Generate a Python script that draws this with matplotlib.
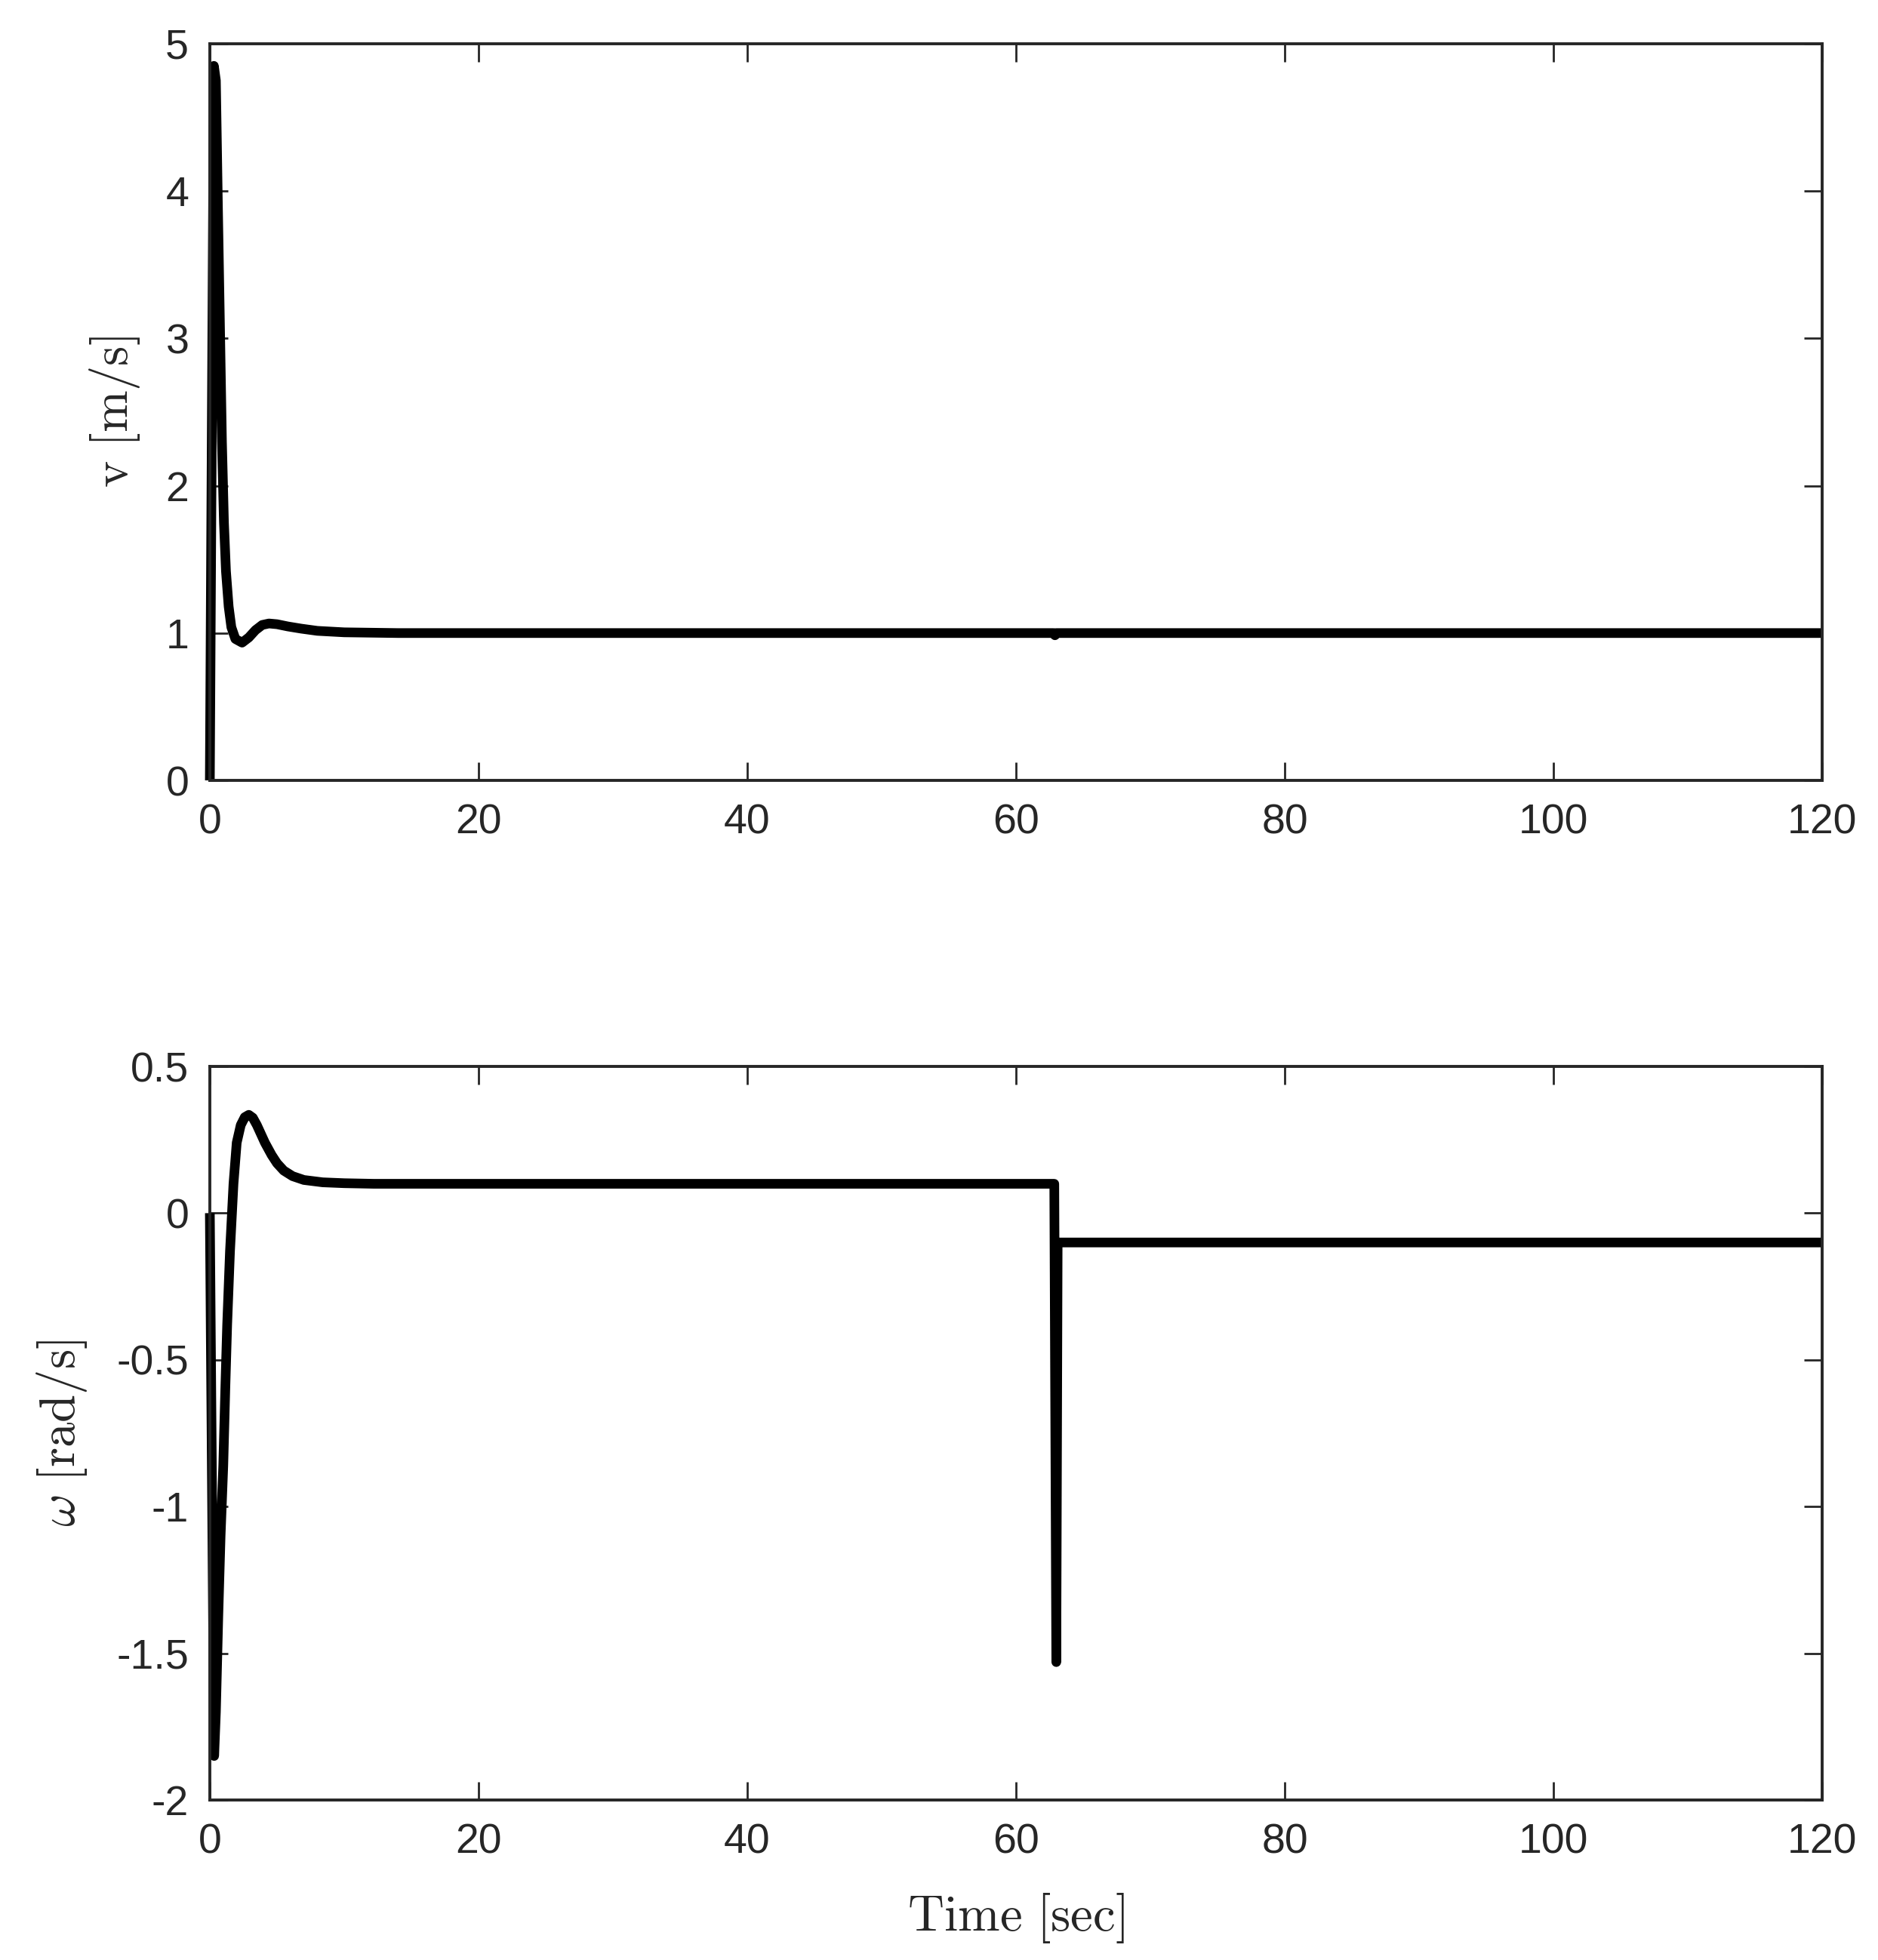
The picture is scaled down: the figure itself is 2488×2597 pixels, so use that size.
import numpy as np
import matplotlib
matplotlib.use('Agg')
import matplotlib.pyplot as plt

# linear speed v [m/s]
t_v = [0, 0.3, 0.45, 0.6, 0.75, 0.9, 1.05, 1.2, 1.4, 1.6, 1.9, 2.4, 2.9, 3.4, 3.9, 4.4,
       5.0, 5.8, 6.8, 8.0, 10, 14, 62.8, 62.9, 63.0, 120]
v = [0, 4.85, 4.75, 3.9, 3.1, 2.3, 1.75, 1.42, 1.18, 1.04, 0.96, 0.935, 0.97, 1.02, 1.055, 1.065,
     1.06, 1.045, 1.03, 1.015, 1.005, 1.0, 1.0, 0.985, 1.0, 1.0]

# angular speed omega [rad/s]
t_w = [0, 0.32, 0.45, 0.63, 0.8, 1.0, 1.15, 1.29, 1.5, 1.76, 2.0, 2.3, 2.6, 2.9, 3.2, 3.5,
       3.8, 4.1, 4.6, 5.0, 5.5, 6.16, 7.0, 8.4, 10, 12.2, 62.85, 63.0, 63.1, 120]
w = [0, -1.85, -1.7, -1.37, -1.1, -0.86, -0.6, -0.38, -0.13, 0.10, 0.24, 0.30, 0.327, 0.335, 0.325, 0.30,
     0.27, 0.24, 0.198, 0.17, 0.145, 0.126, 0.113, 0.105, 0.102, 0.10, 0.10, -1.53, -0.10, -0.10]

x_ticks = [0, 20, 40, 60, 80, 100, 120]
v_ticks = [0, 1, 2, 3, 4, 5]
w_ticks = [-2, -1.5, -1, -0.5, 0, 0.5]
w_labels = ['-2', '-1.5', '-1', '-0.5', '0', '0.5']

plt.rcParams['font.family'] = ['Liberation Sans', 'DejaVu Sans']
plt.rcParams['mathtext.fontset'] = 'cm'
plt.rcParams['axes.unicode_minus'] = False

dark = '#262626'
W, H = 2488, 2597
fig = plt.figure(figsize=(W / 200, H / 200), dpi=200)
left = 278 / W
width = (2414 - 278) / W
ax1 = fig.add_axes([left, 1 - 1034 / H, width, (1034 - 58) / H])
ax2 = fig.add_axes([left, 1 - 2385 / H, width, (2385 - 1413) / H])

line_kw = dict(color='black', lw=4.6, clip_on=False, solid_joinstyle='round', solid_capstyle='butt')
ax1.plot(t_v, v, **line_kw)
ax2.plot(t_w, w, **line_kw)

ax1.set_xlim(0, 120)
ax1.set_ylim(0, 5)
ax1.set_yticks(v_ticks)
ax2.set_xlim(0, 120)
ax2.set_ylim(-2, 0.5)
ax2.set_yticks(w_ticks)
ax2.set_yticklabels(w_labels)

for ax in (ax1, ax2):
    ax.set_xticks(x_ticks)
    for s in ax.spines.values():
        s.set_color(dark)
        s.set_linewidth(1.4)
    ax.tick_params(direction='in', length=8.5, width=1.0, color=dark, labelcolor=dark,
                   labelsize=20, top=True, right=True)
    ax.tick_params(axis='y', pad=10)
    ax.tick_params(axis='x', pad=11)

ax1.set_ylabel(r'$\mathrm{v\ [m/s]}$', fontsize=24, color=dark)
ax1.yaxis.set_label_coords(-0.0421, 0.5)
ax2.set_ylabel(r'$\omega\ \mathrm{[rad/s]}$', fontsize=24, color=dark)
ax2.yaxis.set_label_coords(-0.0749, 0.5)
ax2.set_xlabel(r'$\mathrm{Time\ [sec]}$', fontsize=24, color=dark)
ax2.xaxis.set_label_coords(0.5, -0.1245)

fig.savefig('out.png', dpi=200, facecolor='white')
